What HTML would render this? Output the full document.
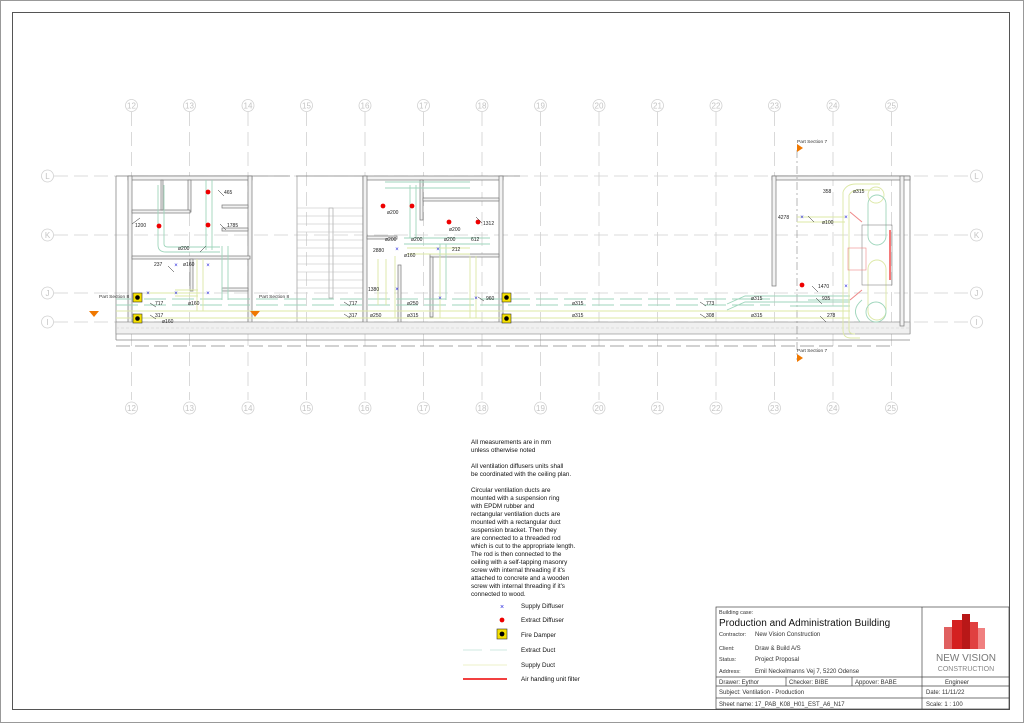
<!DOCTYPE html>
<html><head><meta charset="utf-8"><style>
body{margin:0;background:#fff}
svg{display:block;font-family:"Liberation Sans",sans-serif}
.g{stroke:#d4d4d4;stroke-width:.8;fill:none}
.gd{stroke:#d0d0d0;stroke-width:.8;stroke-dasharray:14 6;fill:none}
.gl{fill:#c4c4c4;font-size:8px;text-anchor:middle}
.w{fill:#f2f2f2;stroke:#777;stroke-width:.7}
.wl{stroke:#888;stroke-width:.8;fill:none}
.ex{stroke:#9fd6bc;stroke-width:.9;fill:none}
.su{stroke:#dce8a6;stroke-width:.9;fill:none}
.t{font-size:5px;fill:#222}
.d{stroke:#222;stroke-width:.5}
.lt{font-size:6.3px;fill:#111}
.tb{font-size:6px;fill:#333}
</style></head><body>
<svg width="1024" height="723" viewBox="0 0 1024 723">
<rect x="0.5" y="0.5" width="1023" height="722" fill="none" stroke="#999" stroke-width="1"/>
<rect x="12.5" y="12.5" width="997" height="697" fill="none" stroke="#555" stroke-width="1"/>

<!-- grid columns -->
<g>
<g id="cols">
<line class="gd" x1="131.5" y1="112" x2="131.5" y2="400"/><line class="gd" x1="189.5" y1="112" x2="189.5" y2="400"/>
<line class="gd" x1="248" y1="112" x2="248" y2="400"/><line class="gd" x1="306.5" y1="112" x2="306.5" y2="400"/>
<line class="gd" x1="365" y1="112" x2="365" y2="400"/><line class="gd" x1="423.5" y1="112" x2="423.5" y2="400"/>
<line class="gd" x1="482" y1="112" x2="482" y2="400"/><line class="gd" x1="540.5" y1="112" x2="540.5" y2="400"/>
<line class="gd" x1="599" y1="112" x2="599" y2="400"/><line class="gd" x1="657.5" y1="112" x2="657.5" y2="400"/>
<line class="gd" x1="716" y1="112" x2="716" y2="400"/><line class="gd" x1="774.5" y1="112" x2="774.5" y2="400"/>
<line class="gd" x1="833" y1="112" x2="833" y2="400"/><line class="gd" x1="891.5" y1="112" x2="891.5" y2="400"/>
</g>
<line class="gd" x1="54" y1="176" x2="970" y2="176"/>
<line class="gd" x1="54" y1="235" x2="970" y2="235"/>
<line class="gd" x1="54" y1="293" x2="970" y2="293"/>
<line class="gd" x1="54" y1="322" x2="970" y2="322"/>
<g fill="#fff" stroke="#d0d0d0" stroke-width=".8">
<circle cx="131.5" cy="105.5" r="6"/><circle cx="189.5" cy="105.5" r="6"/><circle cx="248" cy="105.5" r="6"/><circle cx="306.5" cy="105.5" r="6"/><circle cx="365" cy="105.5" r="6"/><circle cx="423.5" cy="105.5" r="6"/><circle cx="482" cy="105.5" r="6"/><circle cx="540.5" cy="105.5" r="6"/><circle cx="599" cy="105.5" r="6"/><circle cx="657.5" cy="105.5" r="6"/><circle cx="716" cy="105.5" r="6"/><circle cx="774.5" cy="105.5" r="6"/><circle cx="833" cy="105.5" r="6"/><circle cx="891.5" cy="105.5" r="6"/>
<circle cx="131.5" cy="408" r="6"/><circle cx="189.5" cy="408" r="6"/><circle cx="248" cy="408" r="6"/><circle cx="306.5" cy="408" r="6"/><circle cx="365" cy="408" r="6"/><circle cx="423.5" cy="408" r="6"/><circle cx="482" cy="408" r="6"/><circle cx="540.5" cy="408" r="6"/><circle cx="599" cy="408" r="6"/><circle cx="657.5" cy="408" r="6"/><circle cx="716" cy="408" r="6"/><circle cx="774.5" cy="408" r="6"/><circle cx="833" cy="408" r="6"/><circle cx="891.5" cy="408" r="6"/>
<circle cx="47.5" cy="176" r="6"/><circle cx="47.5" cy="235" r="6"/><circle cx="47.5" cy="293" r="6"/><circle cx="47.5" cy="322" r="6"/>
<circle cx="976.5" cy="176" r="6"/><circle cx="976.5" cy="235" r="6"/><circle cx="976.5" cy="293" r="6"/><circle cx="976.5" cy="322" r="6"/>
</g>
<g class="gl">
<text x="131.5" y="108.5">12</text><text x="189.5" y="108.5">13</text><text x="248" y="108.5">14</text><text x="306.5" y="108.5">15</text><text x="365" y="108.5">16</text><text x="423.5" y="108.5">17</text><text x="482" y="108.5">18</text><text x="540.5" y="108.5">19</text><text x="599" y="108.5">20</text><text x="657.5" y="108.5">21</text><text x="716" y="108.5">22</text><text x="774.5" y="108.5">23</text><text x="833" y="108.5">24</text><text x="891.5" y="108.5">25</text>
<text x="131.5" y="411">12</text><text x="189.5" y="411">13</text><text x="248" y="411">14</text><text x="306.5" y="411">15</text><text x="365" y="411">16</text><text x="423.5" y="411">17</text><text x="482" y="411">18</text><text x="540.5" y="411">19</text><text x="599" y="411">20</text><text x="657.5" y="411">21</text><text x="716" y="411">22</text><text x="774.5" y="411">23</text><text x="833" y="411">24</text><text x="891.5" y="411">25</text>
<text x="47.5" y="179">L</text><text x="47.5" y="238">K</text><text x="47.5" y="296">J</text><text x="47.5" y="325">I</text>
<text x="976.5" y="179">L</text><text x="976.5" y="238">K</text><text x="976.5" y="296">J</text><text x="976.5" y="325">I</text>
</g>
</g>

<!-- building outer lines -->
<g class="wl">
<path d="M116 176 H290 M296 176 H363 M500 176 H520 M772 176 H910"/>
<line x1="116" y1="176" x2="116" y2="340"/>
<line x1="116" y1="340" x2="910" y2="340"/>
<line x1="910" y1="176" x2="910" y2="334"/>
<line x1="116" y1="346" x2="890" y2="346" stroke-dasharray="14 5"/>
</g>
<!-- walls: left block -->
<rect class="w" x="128" y="176" width="124" height="4"/>
<rect class="w" x="128" y="176" width="4" height="150"/>
<rect class="w" x="248" y="176" width="4" height="150"/>
<rect class="w" x="188" y="180" width="3" height="32"/>
<rect class="w" x="132" y="210" width="58" height="3"/>
<rect class="w" x="132" y="256" width="118" height="3"/>
<rect class="w" x="190" y="259" width="3" height="32"/>
<rect class="w" x="222" y="205" width="26" height="3"/>
<rect class="w" x="222" y="228" width="26" height="3"/>
<rect class="w" x="222" y="288" width="26" height="3"/>
<rect class="w" x="161" y="180" width="2" height="30"/>
<!-- stair -->
<rect x="297" y="176" width="66" height="150" fill="none" stroke="#999" stroke-width=".7"/>
<rect x="329" y="208" width="4" height="90" fill="none" stroke="#999" stroke-width=".6"/>
<g stroke="#bbb" stroke-width=".6">
<line x1="297" y1="208" x2="363" y2="208"/><line x1="297" y1="216" x2="363" y2="216"/><line x1="297" y1="224" x2="363" y2="224"/><line x1="297" y1="232" x2="363" y2="232"/><line x1="297" y1="240" x2="363" y2="240"/><line x1="297" y1="248" x2="363" y2="248"/><line x1="297" y1="256" x2="363" y2="256"/><line x1="297" y1="264" x2="363" y2="264"/><line x1="297" y1="272" x2="363" y2="272"/><line x1="297" y1="280" x2="363" y2="280"/><line x1="297" y1="288" x2="363" y2="288"/>
</g>
<!-- second block -->
<rect class="w" x="363" y="176" width="140" height="4"/>
<rect class="w" x="363" y="176" width="4" height="150"/>
<rect class="w" x="499" y="176" width="4" height="150"/>
<rect class="w" x="420" y="180" width="3" height="40"/>
<rect class="w" x="367" y="236" width="30" height="3"/>
<rect class="w" x="423" y="198" width="76" height="3"/>
<rect class="w" x="430" y="254" width="69" height="3"/>
<rect class="w" x="398" y="265" width="3" height="60"/>
<rect class="w" x="430" y="257" width="3" height="60"/>
<!-- corridor bottom wall band -->
<rect x="116" y="322" width="794" height="12" fill="#f0f0f0" stroke="#888" stroke-width=".6"/>
<line x1="116" y1="328" x2="910" y2="328" stroke="#ccc" stroke-width=".5" stroke-dasharray="3 2"/>
<!-- right block -->
<rect class="w" x="772" y="176" width="138" height="4"/>
<rect class="w" x="772" y="176" width="4" height="110"/>
<rect class="w" x="900" y="176" width="4" height="150"/>
<line x1="797" y1="150" x2="797" y2="360" stroke="#888" stroke-width=".6" stroke-dasharray="8 3 2 3"/>

<!-- ducts corridor -->
<g class="ex"><line x1="116" y1="299" x2="770" y2="299" stroke-dasharray="22 6"/><line x1="116" y1="305" x2="770" y2="305" stroke-dasharray="22 6"/>
<path d="M727 304 L745 296 H850 M727 310 L745 302 H850" />
<path d="M808 300 H850 M790 306 H850"/></g>
<g class="su"><line x1="116" y1="311" x2="850" y2="311"/><line x1="116" y1="318" x2="850" y2="318"/>
<path d="M197 259 V311 M203 259 V311 M175 290 H198 M175 296 H198 M146 293 H200 M378 259 V305 M386 259 V305"/></g>
<!-- left block ducts -->
<g class="ex"><path d="M158 185 V245 Q158 252 166 252 H220 M164 185 V244 Q164 247 168 247 H220 M206 180 V250 M212 180 V250 M222 246 V300 M228 246 V300"/>
<path d="M385 182 H470 M385 188 H470 M410 185 V238 M416 185 V238 M404 238 H490 M404 244 H490 M440 244 V300 M446 244 V300"/></g>
<g class="su"><path d="M407 248 H470 M407 254 H470 M440 256 V318 M470 256 V318 M476 256 V318 M395 256 V318"/></g>
<!-- right block ducts -->
<g class="su" stroke-width="1"><path d="M843 192 V330 Q843 338 851 338 H860 M849 195 V330 Q849 334 855 334 M849 195 Q852 190 858 190 H880 M843 192 Q846 184 856 184 H880 M797 217 H845 M797 222 H845"/>
<rect x="868" y="260" width="18" height="60" rx="9"/><circle cx="876" cy="195" r="8"/></g>
<g class="ex" stroke-width="1"><rect x="868" y="195" width="18" height="50" rx="9"/><circle cx="876" cy="312" r="10"/><path d="M862 300 Q850 310 860 322"/></g>
<rect x="862" y="225" width="30" height="60" fill="none" stroke="#888" stroke-width=".6"/>
<rect x="848" y="248" width="18" height="22" fill="none" stroke="#e88" stroke-width=".6"/>
<line x1="890" y1="230" x2="890" y2="280" stroke="#e22" stroke-width="1.2"/>
<line x1="850" y1="212" x2="862" y2="222" stroke="#e88" stroke-width="1"/>
<line x1="850" y1="300" x2="862" y2="290" stroke="#e88" stroke-width="1"/>

<!-- extract diffusers -->
<g fill="#e00"><circle cx="208" cy="192" r="2.4"/><circle cx="208" cy="225" r="2.4"/><circle cx="159" cy="226" r="2.4"/><circle cx="383" cy="206" r="2.4"/><circle cx="412" cy="206" r="2.4"/><circle cx="449" cy="222" r="2.4"/><circle cx="478" cy="222" r="2.4"/><circle cx="802" cy="285" r="2.4"/></g>
<!-- supply diffusers -->
<g font-size="6" fill="#22d" text-anchor="middle">
<text x="176" y="267">×</text><text x="208" y="267">×</text><text x="148" y="295">×</text><text x="176" y="295">×</text><text x="208" y="295">×</text>
<text x="397" y="251">×</text><text x="438" y="251">×</text><text x="397" y="291">×</text><text x="440" y="300">×</text><text x="476" y="300">×</text>
<text x="802" y="219">×</text><text x="846" y="219">×</text><text x="846" y="288">×</text></g>
<!-- fire dampers -->
<g><rect x="133" y="293" width="9" height="9" fill="#f5e000" stroke="#333" stroke-width=".6"/><circle cx="137.5" cy="297.5" r="2.3"/>
<rect x="133" y="314" width="9" height="9" fill="#f5e000" stroke="#333" stroke-width=".6"/><circle cx="137.5" cy="318.5" r="2.3"/>
<rect x="502" y="293" width="9" height="9" fill="#f5e000" stroke="#333" stroke-width=".6"/><circle cx="506.5" cy="297.5" r="2.3"/>
<rect x="502" y="314" width="9" height="9" fill="#f5e000" stroke="#333" stroke-width=".6"/><circle cx="506.5" cy="318.5" r="2.3"/></g>
<!-- section markers -->
<g fill="#f07800"><path d="M89 311 H99 L94 317Z"/><path d="M250 311 H260 L255 317Z"/><path d="M797 144 V152 L803 148Z"/><path d="M797 354 V362 L803 358Z"/></g>
<g font-size="4.8" fill="#333"><text x="99" y="298">Part Section 8</text><text x="259" y="298">Part Section 8</text><text x="797" y="143">Part Section 7</text><text x="797" y="352">Part Section 7</text></g>

<!-- dimension labels -->
<g class="t">
<text x="224" y="194">465</text><text x="135" y="227">1200</text><text x="227" y="227">1785</text><text x="178" y="250">ø200</text><text x="154" y="266">237</text><text x="183" y="266">ø160</text>
<text x="155" y="305">717</text><text x="188" y="305">ø160</text><text x="155" y="317">317</text><text x="162" y="323">ø160</text>
<text x="373" y="252">2880</text><text x="385" y="241">ø200</text><text x="411" y="241">ø200</text><text x="444" y="241">ø200</text><text x="471" y="241">612</text><text x="404" y="257">ø160</text><text x="452" y="251">212</text><text x="387" y="214">ø200</text><text x="449" y="231">ø200</text><text x="483" y="225">1312</text>
<text x="368" y="291">1380</text><text x="486" y="300">960</text><text x="407" y="305">ø250</text><text x="349" y="305">717</text><text x="349" y="317">317</text><text x="370" y="317">ø250</text><text x="407" y="317">ø315</text>
<text x="572" y="305">ø315</text><text x="572" y="317">ø315</text><text x="706" y="305">773</text><text x="706" y="317">308</text><text x="751" y="300">ø315</text><text x="751" y="317">ø315</text>
<text x="778" y="219">4278</text><text x="822" y="224">ø100</text><text x="823" y="193">358</text><text x="853" y="193">ø315</text><text x="818" y="288">1470</text><text x="822" y="300">935</text><text x="827" y="317">278</text>
</g>
<g class="d">
<path d="M218 190 l6 6 M132 224 l8 -6 M220 224 l6 6 M200 252 l6 -6 M168 266 l6 6 M150 303 l6 4 M150 315 l6 4 M344 302 l6 4 M344 314 l6 4 M700 302 l6 4 M700 314 l6 4 M478 297 l6 4 M808 216 l6 6 M812 286 l6 6 M816 298 l6 6 M820 316 l6 6 M476 217 l6 6"/>
</g>

<!-- notes -->
<g class="lt">
<text x="471" y="444">All measurements are in mm</text><text x="471" y="452">unless otherwise noted</text>
<text x="471" y="468">All ventilation diffusers units shall</text><text x="471" y="476">be coordinated with the ceiling plan.</text>
<text x="471" y="492">Circular ventilation ducts are</text><text x="471" y="500">mounted with a suspension ring</text><text x="471" y="508">with EPDM rubber and</text><text x="471" y="516">rectangular ventilation ducts are</text><text x="471" y="524">mounted with a rectangular duct</text><text x="471" y="532">suspension bracket. Then they</text><text x="471" y="540">are connected to a threaded rod</text><text x="471" y="548">which is cut to the appropriate length.</text><text x="471" y="556">The rod is then connected to the</text><text x="471" y="564">ceiling with a self-tapping masonry</text><text x="471" y="572">screw with internal threading if it's</text><text x="471" y="580">attached to concrete and a wooden</text><text x="471" y="588">screw with internal threading if it's</text><text x="471" y="596">connected to wood.</text>
<text x="521" y="608">Supply Diffuser</text><text x="521" y="622">Extract Diffuser</text><text x="521" y="637">Fire Damper</text><text x="521" y="652">Extract Duct</text><text x="521" y="667">Supply Duct</text><text x="521" y="681">Air handling unit filter</text>
</g>
<text x="502" y="609" font-size="7" fill="#22d" text-anchor="middle">×</text>
<circle cx="502" cy="620" r="2.4" fill="#e00"/>
<rect x="497" y="629" width="10" height="10" fill="#f5e000" stroke="#333" stroke-width=".6"/><circle cx="502" cy="634" r="2.4"/>
<line x1="463" y1="650" x2="482" y2="650" stroke="#cfe8e0" stroke-width="1"/><line x1="490" y1="650" x2="507" y2="650" stroke="#cfe8e0" stroke-width="1"/>
<line x1="463" y1="665" x2="507" y2="665" stroke="#eef0c8" stroke-width="1"/>
<line x1="463" y1="679" x2="507" y2="679" stroke="#e00" stroke-width="1.4"/>

<!-- title block -->
<g fill="none" stroke="#444" stroke-width=".7">
<rect x="716" y="607" width="293" height="102"/>
<line x1="922" y1="607" x2="922" y2="709"/>
<line x1="716" y1="677" x2="1009" y2="677"/>
<line x1="716" y1="686" x2="1009" y2="686"/>
<line x1="716" y1="698" x2="1009" y2="698"/>
<line x1="786" y1="677" x2="786" y2="686"/><line x1="852" y1="677" x2="852" y2="686"/>
</g>
<g class="tb">
<text x="719" y="614" font-size="5.5">Building case:</text>
<text x="719" y="626" font-size="10" fill="#111">Production and Administration Building</text>
<text x="719" y="636" font-size="5.5">Contractor:</text><text x="755" y="636">New Vision Construction</text>
<text x="719" y="650" font-size="5.5">Client:</text><text x="755" y="650">Draw &amp; Build A/S</text>
<text x="719" y="661" font-size="5.5">Status:</text><text x="755" y="661">Project Proposal</text>
<text x="719" y="673" font-size="5.5">Address:</text><text x="755" y="673">Emil Neckelmanns Vej 7, 5220 Odense</text>
<text x="719" y="684">Drawer: Eythor</text><text x="789" y="684">Checker: BIBE</text><text x="855" y="684">Appover: BABE</text>
<text x="945" y="684">Engineer</text>
<text x="719" y="694">Subject:  Ventilation - Production</text><text x="926" y="694">Date: 11/11/22</text>
<text x="719" y="706">Sheet name: 17_PAB_K08_H01_EST_A6_N17</text><text x="926" y="706">Scale: 1 : 100</text>
<text x="966" y="661" font-size="10" fill="#777" text-anchor="middle">NEW VISION</text>
<text x="966" y="671" font-size="7" fill="#888" text-anchor="middle">CONSTRUCTION</text>
</g>
<g fill="#d42020"><rect x="944" y="627" width="8" height="22" fill="#e06060"/><rect x="952" y="620" width="10" height="29"/><rect x="962" y="614" width="8" height="35" fill="#b81818"/><rect x="970" y="622" width="8" height="27" fill="#e04040"/><rect x="978" y="628" width="7" height="21" fill="#f08080"/></g>
</svg>
</body></html>
